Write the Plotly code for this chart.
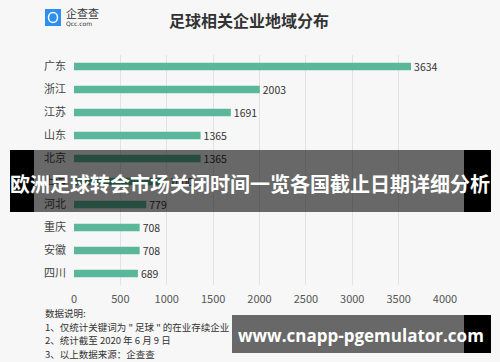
import plotly.graph_objects as go

categories = ["广东", "浙江", "江苏", "山东", "北京", "上海", "河北", "重庆", "安徽", "四川"]
values = [3634, 2003, 1691, 1365, 1365, 1000, 779, 708, 708, 689]
x_ticks = [0, 500, 1000, 1500, 2000, 2500, 3000, 3500, 4000]

title_text = "足球相关企业地域分布"
banner_text = "欧洲足球转会市场关闭时间一览各国截止日期详细分析"
watermark_text = "www.cnapp-pgemulator.com"
notes = ["数据说明:", "1、仅统计关键词为 \" 足球 \" 的在业存续企业", "2、统计截至 2020 年 6 月 9 日", "3、以上数据来源：企查查"]

FONT = "Noto Sans CJK SC"
W, H = 500, 362
ML, MR, MT, MB = 74, 55, 55, 77
PW, PH = W - ML - MR, H - MT - MB

fig = go.Figure(go.Bar(
    x=values, y=categories, orientation="h",
    marker=dict(color="#5bb79a", line=dict(width=0)),
    width=0.33,
    text=values, texttemplate="%{text}", textposition="outside",
    constraintext="none",
    textfont=dict(family=FONT, size=10.5, color="#333333"),
    cliponaxis=False,
))

def px(x):
    return (x - ML) / PW

def py(y):
    return (H - MB - y) / PH

shapes = [
    # logo square
    dict(type="rect", xref="paper", yref="paper", x0=px(45), x1=px(61), y0=py(26), y1=py(9),
         fillcolor="#2f8ff0", line=dict(width=0), layer="above"),
    dict(type="circle", xref="paper", yref="paper", x0=px(48.5), x1=px(57.5), y0=py(22.5), y1=py(12.5),
         fillcolor="rgba(0,0,0,0)", line=dict(color="white", width=1.5), layer="above"),
    # banner
    dict(type="rect", xref="paper", yref="paper", x0=px(10), x1=px(34), y0=py(212), y1=py(150),
         fillcolor="black", line=dict(width=0), layer="above"),
    dict(type="rect", xref="paper", yref="paper", x0=px(34), x1=px(464), y0=py(212), y1=py(150),
         fillcolor="rgba(0,0,0,0.58)", line=dict(width=0), layer="above"),
    dict(type="rect", xref="paper", yref="paper", x0=px(464), x1=px(491), y0=py(212), y1=py(150),
         fillcolor="black", line=dict(width=0), layer="above"),
    # watermark box
    dict(type="rect", xref="paper", yref="paper", x0=px(232), x1=px(464), y0=py(353), y1=py(315),
         fillcolor="rgba(0,0,0,0.58)", line=dict(width=0), layer="above"),
    dict(type="rect", xref="paper", yref="paper", x0=px(464), x1=px(491), y0=py(353), y1=py(315),
         fillcolor="black", line=dict(width=0), layer="above"),
]

annotations = [
    dict(text=title_text, x=px(249), y=py(20), xref="paper", yref="paper", showarrow=False,
         xanchor="center", yanchor="middle", font=dict(family=FONT, size=16, color="#333333", weight="bold")),
    dict(text="企查查", x=px(64), y=py(12.5), xref="paper", yref="paper", showarrow=False,
         xanchor="left", yanchor="middle", font=dict(family=FONT, size=11, color="#333333")),
    dict(text="Qcc.com", x=px(64), y=py(24), xref="paper", yref="paper", showarrow=False,
         xanchor="left", yanchor="middle", font=dict(family="DejaVu Sans", size=6, color="#333333")),
    dict(text=banner_text, x=px(250), y=py(183), xref="paper", yref="paper", showarrow=False,
         xanchor="center", yanchor="middle", font=dict(family=FONT, size=20, color="white", weight="bold")),
    dict(text=watermark_text, x=px(361), y=py(335), xref="paper", yref="paper", showarrow=False,
         xanchor="center", yanchor="middle", font=dict(family="Open Sans", size=17, color="white", weight="bold")),
]
for i, line in enumerate(notes):
    annotations.append(dict(text=line, x=px(43), y=py(313 + i * 13.7), xref="paper", yref="paper",
                            showarrow=False, xanchor="left", yanchor="middle",
                            font=dict(family=FONT, size=9.5, color="#333333")))

fig.update_layout(
    width=W, height=H,
    margin=dict(l=ML, r=MR, t=MT, b=MB, pad=0),
    paper_bgcolor="#f7f7f7", plot_bgcolor="#f7f7f7",
    showlegend=False,
    shapes=shapes, annotations=annotations,
    xaxis=dict(range=[0, 4000], tickvals=x_ticks, showgrid=True, gridcolor="#e2e2e2", gridwidth=1,
               zeroline=False, showline=False, ticks="", ticklabelstandoff=6,
               tickfont=dict(family=FONT, size=11, color="#555555")),
    yaxis=dict(autorange="reversed", showgrid=False, zeroline=False, showline=False, ticks="",
               ticklabelstandoff=7, tickfont=dict(family=FONT, size=11, color="#444444")),
    font=dict(family=FONT),
)

fig.write_html("out.html", config={"displayModeBar": False},
               post_script="document.body.style.margin='0';document.body.style.overflow='hidden';")
